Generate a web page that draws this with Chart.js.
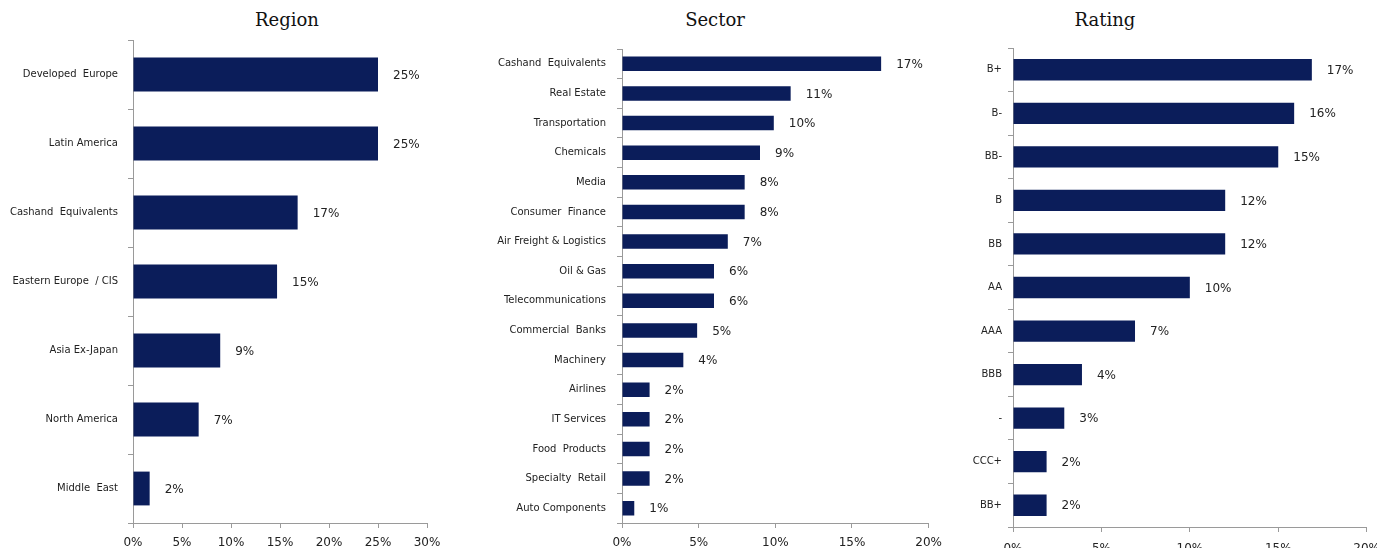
<!DOCTYPE html>
<html>
<head>
<meta charset="utf-8">
<script src="https://cdn.jsdelivr.net/npm/chart.js@4"></script>
<style>
  html, body { margin: 0; padding: 0; background: #fff; overflow: hidden; }
  body { width: 1377px; height: 548px; position: relative; }
  .box { position: absolute; top: 0; height: 548px; }
  .title { position: absolute; top: 9px; font: 18px "DejaVu Serif", Georgia, serif; color: #111; transform: translateX(-50%); white-space: nowrap; }
</style>
</head>
<body>
<div class="title" style="left:287px">Region</div>
<div class="title" style="left:715px">Sector</div>
<div class="title" style="left:1105px">Rating</div>
<div class="box" style="left:0;width:460px"><canvas id="region"></canvas></div>
<div class="box" style="left:470px;width:480px"><canvas id="sector"></canvas></div>
<div class="box" style="left:960px;width:430px"><canvas id="rating"></canvas></div>
<script>
(function() {

  // Region
  var regionLabels = ['Developed  Europe', 'Latin America', 'Cashand  Equivalents', 'Eastern Europe  / CIS', 'Asia Ex-Japan', 'North America', 'Middle  East'];
  var regionValues = [25, 25, 16.8, 14.7, 8.9, 6.7, 1.7];
  var regionText = ['25%', '25%', '17%', '15%', '9%', '7%', '2%'];

  // Sector
  var sectorLabels = ['Cashand  Equivalents', 'Real Estate', 'Transportation', 'Chemicals', 'Media', 'Consumer  Finance', 'Air Freight & Logistics', 'Oil & Gas', 'Telecommunications', 'Commercial  Banks', 'Machinery', 'Airlines', 'IT Services', 'Food  Products', 'Specialty  Retail', 'Auto Components'];
  var sectorValues = [16.9, 11.0, 9.9, 9.0, 8.0, 8.0, 6.9, 6.0, 6.0, 4.9, 4.0, 1.8, 1.8, 1.8, 1.8, 0.8];
  var sectorText = ['17%', '11%', '10%', '9%', '8%', '8%', '7%', '6%', '6%', '5%', '4%', '2%', '2%', '2%', '2%', '1%'];

  // Rating
  var ratingLabels = ['B+', 'B-', 'BB-', 'B', 'BB', 'AA', 'AAA', 'BBB', '-', 'CCC+', 'BB+'];
  var ratingValues = [16.9, 15.9, 15.0, 12.0, 12.0, 10.0, 6.9, 3.9, 2.9, 1.9, 1.9];
  var ratingText = ['17%', '16%', '15%', '12%', '12%', '10%', '7%', '4%', '3%', '2%', '2%'];

  var navy = '#0b1d5a';
  var axisGrey = '#9a9a9a';

  var valueLabels = {
    id: 'valueLabels',
    afterDatasetsDraw: function(chart) {
      var ctx = chart.ctx;
      var texts = chart.options.plugins.valueLabels.texts;
      var meta = chart.getDatasetMeta(0);
      ctx.save();
      ctx.font = '12px "DejaVu Sans", Verdana, sans-serif';
      ctx.fillStyle = '#222';
      ctx.textAlign = 'left';
      ctx.textBaseline = 'middle';
      meta.data.forEach(function(bar, i) {
        ctx.fillText(texts[i], bar.x + 15, bar.y + 1);
      });
      ctx.restore();
    }
  };

  function makeChart(id, labels, values, texts, o) {
    var canvas = document.getElementById(id);
    canvas.width = o.width;
    canvas.height = 548;
    canvas.style.width = o.width + 'px';
    canvas.style.height = '548px';
    return new Chart(canvas, {
      type: 'bar',
      data: {
        labels: labels,
        datasets: [{
          data: values,
          backgroundColor: navy,
          borderWidth: 0,
          barPercentage: 0.98,
          categoryPercentage: 0.5
        }]
      },
      options: {
        indexAxis: 'y',
        responsive: false,
        animation: false,
        events: [],
        layout: { padding: { left: 0, top: o.top, right: o.right, bottom: 0 } },
        plugins: {
          legend: { display: false },
          tooltip: { enabled: false },
          valueLabels: { texts: texts }
        },
        scales: {
          x: {
            min: 0,
            max: o.max,
            ticks: {
              stepSize: 5,
              padding: o.xPad,
              color: '#222',
              font: { family: '"DejaVu Sans", Verdana, sans-serif', size: 12 },
              callback: function(v) { return v + '%'; }
            },
            grid: { drawOnChartArea: false, color: axisGrey, tickLength: 5 },
            border: { color: axisGrey, width: 1 },
            afterFit: function(scale) { scale.height = o.xHeight; }
          },
          y: {
            ticks: {
              padding: o.yPad,
              color: '#222',
              autoSkip: false,
              font: { family: '"DejaVu Sans", Verdana, sans-serif', size: 10 }
            },
            grid: { drawOnChartArea: false, offset: true, color: axisGrey, tickLength: 5 },
            border: { color: axisGrey, width: 1 },
            afterFit: function(scale) { scale.width = o.yWidth; }
          }
        }
      },
      plugins: [valueLabels]
    });
  }

  makeChart('region', regionLabels, regionValues, regionText,
    { width: 460, top: 40, right: 33, max: 30, yWidth: 133, yPad: 10, xHeight: 25, xPad: 8 });
  makeChart('sector', sectorLabels, sectorValues, sectorText,
    { width: 480, top: 49, right: 20, max: 20, yWidth: 152, yPad: 11, xHeight: 25, xPad: 8 });
  makeChart('rating', ratingLabels, ratingValues, ratingText,
    { width: 430, top: 48, right: 23, max: 20, yWidth: 53, yPad: 6, xHeight: 21, xPad: 10 });

}());
</script>
</body>
</html>
